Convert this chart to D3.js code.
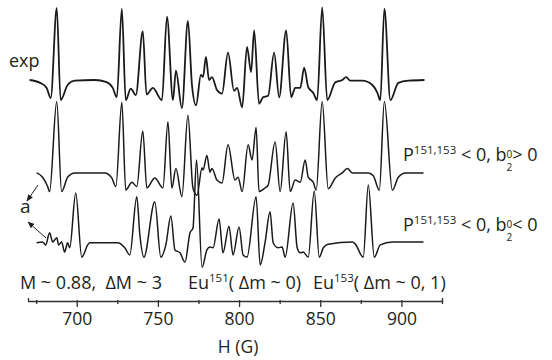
<!DOCTYPE html>
<html lang="en">
<head>
<meta charset="UTF-8" />
<script src="https://d3js.org/d3.v7.min.js"></script>
<style>
    body { margin: 0; background: #fff; font-family: 'Open Sans', sans-serif; }
    text { fill: #231f20; white-space: pre; }
    .trace { fill: none; stroke: #1a1a1a; stroke-linejoin: round; }
    .axis path, .axis line { stroke: #333; stroke-width: 1.3; }
    .axis text { font-family: 'Open Sans', sans-serif; font-size: 17.5px; fill: #231f20; }
</style>
</head>
<body>
<svg width="552" height="360"></svg>
<script>

// field (G), amplitude (relative to biggest line)
var expData = [
    [671, 0], [677.5, -0.04], [681.5, -0.11], [684, -0.25], [687.7, 1.0], [690.1, -0.28],
    [694.4, -0.07], [698.8, -0.01], [711, 0], [718.5, -0.03], [722.2, -0.11], [724.7, -0.24],
    [727.8, 0.99], [730.2, -0.28], [733.3, -0.12], [736.4, -0.21], [740.7, 0.68], [743, -0.2],
    [746.9, -0.11], [752.5, -0.28], [755.6, 0.88], [759.3, -0.28], [761.1, 0.13], [764.8, -0.39],
    [768.5, 0.82], [771, -0.07], [773.5, -0.35], [776.5, 0.07], [777.8, 0.04], [779.6, 0.32],
    [781.5, 0], [783.3, 0.04], [786.4, -0.14], [789.5, -0.19], [793.2, 0.38], [796.9, -0.15],
    [798.8, -0.11], [801.9, -0.38], [804.9, 0.46], [807.4, 0.11], [809.3, 0.69], [812.3, -0.33],
    [814.8, -0.24], [817.9, -0.22], [821.6, 0.38], [824.7, -0.24], [829, 0.69], [832.1, -0.24],
    [834.6, -0.11], [837.7, -0.11], [840.1, 0.17], [842.6, -0.1], [845.7, -0.18], [848.1, -0.28],
    [851.2, 1.01], [854.3, -0.28], [859.3, -0.03], [863.6, 0], [866, 0.04], [868.5, -0.01],
    [875.9, -0.01], [882.1, -0.07], [885.2, -0.18], [887, -0.28], [889.5, 0.99], [893.2, -0.28],
    [898.1, -0.04], [904.3, -0.01], [914.2, 0]
];

var simPosData = [
    [675.3, 0], [679, -0.06], [682.1, -0.19], [683.3, -0.26], [687.7, 0.99], [690.7, -0.26],
    [694.4, -0.06], [698.8, 0], [717.3, 0], [721.6, -0.07], [724.1, -0.19], [727.8, 0.98],
    [730.2, -0.24], [734, -0.13], [737, -0.19], [740.7, 0.58], [743.2, -0.21], [748.1, -0.07],
    [753.1, -0.21], [756.2, 0.71], [758.6, -0.21], [761.1, 0.06], [764.8, -0.33], [768.5, 0.8],
    [771.6, -0.21], [774.1, -0.31], [777.2, 0.07], [777.8, 0.04], [780.2, 0.24], [782.1, 0.01],
    [783.3, 0.06], [786.4, -0.1], [789.5, -0.14], [793.2, 0.39], [797.5, -0.1], [799.4, -0.06],
    [801.9, -0.26], [805.6, 0.39], [808, 0.18], [810.5, 0.63], [812.3, -0.26], [816, -0.21],
    [817.9, -0.17], [822.2, 0.43], [825.3, -0.26], [829, 0.57], [831.5, -0.26], [834.6, -0.1],
    [837.7, -0.13], [840.7, 0.18], [842.6, -0.06], [845.7, -0.13], [847.5, -0.24], [851.2, 0.99],
    [854.9, -0.22], [859.3, -0.07], [863.6, 0], [866.7, 0.06], [869.8, 0], [879.6, 0],
    [882.7, -0.04], [886.4, -0.24], [889.5, 0.99], [894.4, -0.24], [898.1, -0.06], [902.5, 0],
    [913.6, 0]
];

var simNegData = [
    [675.3, -0.01], [679, 0], [680.9, -0.04], [683.3, 0.13], [685.2, 0], [687.7, 0.06],
    [688.9, -0.04], [690.7, 0], [692.6, -0.14], [694.4, -0.01], [695.7, -0.08], [699.4, 0.68],
    [703.1, -0.21], [706.8, -0.04], [708, -0.01], [725.3, -0.01], [729.6, -0.08], [732.7, -0.18],
    [737, 0.63], [738.9, 0.1], [741.4, -0.21], [748.1, 0.56], [751.8, -0.21], [754.9, -0.04],
    [758, 0.36], [760.5, -0.11], [763.6, -0.15], [766.7, -0.28], [769.8, 0.13], [771.6, 0.19],
    [773.8, 1.14], [777.2, -0.35], [780.2, -0.11], [782.1, -0.07], [784, -0.08], [787.7, 0.32],
    [790.1, -0.15], [793.8, 0.22], [796.3, -0.18], [800, 0.21], [802.5, -0.18], [804.9, -0.21],
    [810.5, 0.63], [813, -0.32], [816, -0.01], [819.1, 0.42], [821, -0.01], [824, -0.08],
    [826.5, -0.07], [828.4, -0.21], [833.3, 0.54], [835.8, -0.08], [837.7, -0.15], [839.5, -0.14],
    [842.6, -0.21], [846.3, 0.71], [849.4, -0.21], [851.9, -0.08], [854.9, -0.03], [869.8, 0],
    [871.6, -0.03], [876.5, -0.21], [879.6, 0.79], [883.3, -0.21], [887, -0.04], [894.4, 0],
    [913.6, 0]
];

var majorTicks = [700, 750, 800, 850, 900];
var minorTicks = [675, 725, 775, 825, 875, 925];
var axisTitle = "H (G)";

// vertical stacking of the three spectra (same units as amplitude)
var traceOffsets = [0, -1.29, -2.25];

var svg = d3.select("svg");

var x = d3.scaleLinear().domain([670, 925]).range([28, 442]);
var y = d3.scaleLinear().domain([-3, 1]).range([296, 8]);

var traces = [
    {data: expData, off: traceOffsets[0], w: 1.8},
    {data: simPosData, off: traceOffsets[1], w: 1.5},
    {data: simNegData, off: traceOffsets[2], w: 1.5}
];

traces.forEach(function(t) {
    var line = d3.line()
        .x(function(d) { return x(d[0]); })
        .y(function(d) { return y(d[1] + t.off); })
        .curve(d3.curveMonotoneX);
    svg.append("path")
        .attr("class", "trace")
        .attr("stroke-width", t.w)
        .attr("d", line(t.data));
});

// axis
var gAxis = svg.append("g")
    .attr("class", "axis")
    .attr("transform", "translate(0,301)");
gAxis.call(d3.axisBottom(x).tickValues(majorTicks).tickSize(6).tickSizeOuter(-3).tickPadding(6));
gAxis.append("g").call(d3.axisBottom(x).tickValues(minorTicks).tickSize(3).tickFormat(""))
    .select(".domain").remove();
gAxis.selectAll(".tick line").attr("y1", -1);

svg.append("text")
    .attr("x", x(800) - 1).attr("y", 353)
    .attr("text-anchor", "middle")
    .attr("font-size", 17.5)
    .text(axisTitle);

// labels
svg.append("text").attr("x", 9).attr("y", 67).attr("font-size", 18).text("exp");
svg.append("text").attr("x", 20).attr("y", 213).attr("font-size", 19).text("a");

svg.append("defs").append("marker")
    .attr("id", "arr").attr("viewBox", "0 0 10 10")
    .attr("refX", 9).attr("refY", 5)
    .attr("markerWidth", 7).attr("markerHeight", 7)
    .attr("orient", "auto")
  .append("path").attr("d", "M0,1L10,5L0,9z").attr("fill", "#231f20");

svg.append("line").attr("x1", 38).attr("y1", 185).attr("x2", 27).attr("y2", 201)
    .attr("stroke", "#231f20").attr("stroke-width", 1).attr("marker-end", "url(#arr)");
svg.append("line").attr("x1", 46).attr("y1", 238).attr("x2", 28).attr("y2", 222)
    .attr("stroke", "#231f20").attr("stroke-width", 1).attr("marker-end", "url(#arr)");

function paramLabel(yy, sign) {
    var t = svg.append("text").attr("x", 403).attr("y", yy).attr("font-size", 18);
    t.append("tspan").text("P");
    t.append("tspan").attr("font-size", 11.5).attr("dy", -7).text("151,153");
    t.append("tspan").attr("dy", 7).text(" < 0, b");
    t.append("tspan").attr("font-size", 10).attr("dy", 9.5).text("2");
    t.append("tspan").attr("font-size", 10).attr("dx", -5.7).attr("dy", -13).text("0");
    t.append("tspan").attr("dy", 3.5).text(sign + " 0");
}
paramLabel(161, ">");
paramLabel(231, "<");

svg.append("text").attr("x", 20).attr("y", 289).attr("font-size", 18).text("M ~ 0.88,  \u0394M ~ 3");

function euLabel(xx, iso, rest) {
    var t = svg.append("text").attr("x", xx).attr("y", 289).attr("font-size", 18);
    t.append("tspan").text("Eu");
    t.append("tspan").attr("font-size", 11.5).attr("dy", -7).text(iso);
    t.append("tspan").attr("dy", 7).text(rest);
}
euLabel(188, "151", "( \u0394m ~ 0)");
euLabel(313, "153", "( \u0394m ~ 0, 1)");

</script>
</body>
</html>
